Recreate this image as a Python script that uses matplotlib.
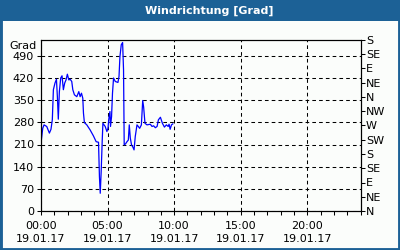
import matplotlib
matplotlib.use("Agg")
import matplotlib.pyplot as plt
from matplotlib.patches import Rectangle
import numpy as np

hours = [0, 0.13, 0.23, 0.43, 0.63, 0.75, 0.85, 0.93, 1.05, 1.16, 1.23, 1.3, 1.38, 1.48, 1.58,
         1.68, 1.78, 1.88, 1.98, 2.09, 2.19, 2.31, 2.39, 2.51, 2.69, 2.84, 2.94, 3.04, 3.14,
         3.19, 3.26, 3.44, 3.69, 3.94, 4.14, 4.32, 4.39, 4.45, 4.52, 4.6, 4.65, 4.82, 4.95,
         5.03, 5.1, 5.18, 5.22, 5.3, 5.37, 5.45, 5.58, 5.78, 5.86, 5.93, 6.03, 6.13, 6.2,
         6.25, 6.35, 6.46, 6.56, 6.63, 6.71, 6.8, 6.91, 6.99, 7.08, 7.21, 7.31, 7.41, 7.54,
         7.64, 7.71, 7.81, 7.96, 8.21, 8.34, 8.46, 8.59, 8.72, 8.82, 8.97, 9.12, 9.27, 9.42,
         9.55, 9.62, 9.7, 9.8, 9.9]
direction = [214, 261, 272, 267, 246, 258, 288, 383, 404, 416, 361, 290, 377, 420, 427,
             383, 404, 414, 432, 414, 416, 409, 383, 367, 361, 377, 361, 372, 356,
             309, 279, 272, 256, 237, 219, 217, 108, 56, 124, 224, 277, 267, 251,
             261, 293, 314, 267, 298, 372, 420, 409, 406, 425, 488, 525, 532, 446,
             209, 212, 219, 224, 272, 230, 209, 201, 193, 235, 272, 267, 261, 272,
             349, 328, 277, 272, 274, 267, 269, 263, 267, 288, 296, 277, 265, 272,
             267, 274, 258, 272, 275]

left_ticks = [0, 70, 140, 210, 280, 350, 420, 490]
right_ticks = [0, 45, 90, 135, 180, 225, 270, 315, 360, 405, 450, 495, 540]
right_labels = ["N", "NE", "E", "SE", "S", "SW", "W", "NW", "N", "NE", "E", "SE", "S"]
x_ticks = [0, 5, 10, 15, 20]
x_labels = ["00:00\n19.01.17", "05:00\n19.01.17", "10:00\n19.01.17", "15:00\n19.01.17", "20:00\n19.01.17"]
title = "Windrichtung [Grad]"
unit = "Grad"

W, H = 400, 250
fs = 8
fig = plt.figure(figsize=(4, 2.5), dpi=100)
fig.patch.set_facecolor("#fbfdfb")
blue = "#1c6196"
# border and title bar
fig.add_artist(Rectangle((0, 0), 1, 1, transform=fig.transFigure, facecolor="none",
                         edgecolor=blue, linewidth=3.5, zorder=10))
fig.add_artist(Rectangle((0, 1 - 21 / H), 1, 21 / H, transform=fig.transFigure,
                         facecolor=blue, edgecolor="none", zorder=9))
fig.text(209 / W, 1 - 10.5 / H, title, color="white", fontsize=8, fontweight="bold",
         ha="center", va="center", zorder=11, family="DejaVu Sans")

ax = fig.add_axes([41 / W, 1 - 211 / H, (360.5 - 41) / W, (211 - 40) / H])
ax.set_facecolor("#fbfdfb")
ax.plot(hours, direction, color="#0000ff", linewidth=0.9)
ax.set_xlim(0, 24)
ax.set_ylim(0, 540)
ax.set_yticks(left_ticks)
ax.set_yticklabels([str(v) for v in left_ticks])
ax.set_xticks(x_ticks)
ax.set_xticklabels(x_labels, linespacing=1.45)
ax.set_xticks(range(0, 25), minor=True)
ax.grid(True, color="black", linestyle=(0, (3.5, 3)), linewidth=0.75)
for s in ax.spines.values():
    s.set_linewidth(0.8)
ax.tick_params(axis="both", which="both", direction="out", length=3, width=0.75,
               labelsize=fs, colors="black", pad=2)
ax.tick_params(axis="x", which="both", length=3, pad=4)
ax.text(-0.015, 540 - 18, unit, transform=ax.get_yaxis_transform(), ha="right", va="center",
        fontsize=fs)

ax2 = ax.twinx()
ax2.set_ylim(0, 540)
ax2.set_yticks(right_ticks)
ax2.set_yticklabels(right_labels)
ax2.tick_params(axis="y", direction="out", length=3, width=0.75, labelsize=fs, pad=1)
for s in ax2.spines.values():
    s.set_linewidth(0.8)

fig.savefig("out.png", dpi=100, facecolor=fig.get_facecolor())
